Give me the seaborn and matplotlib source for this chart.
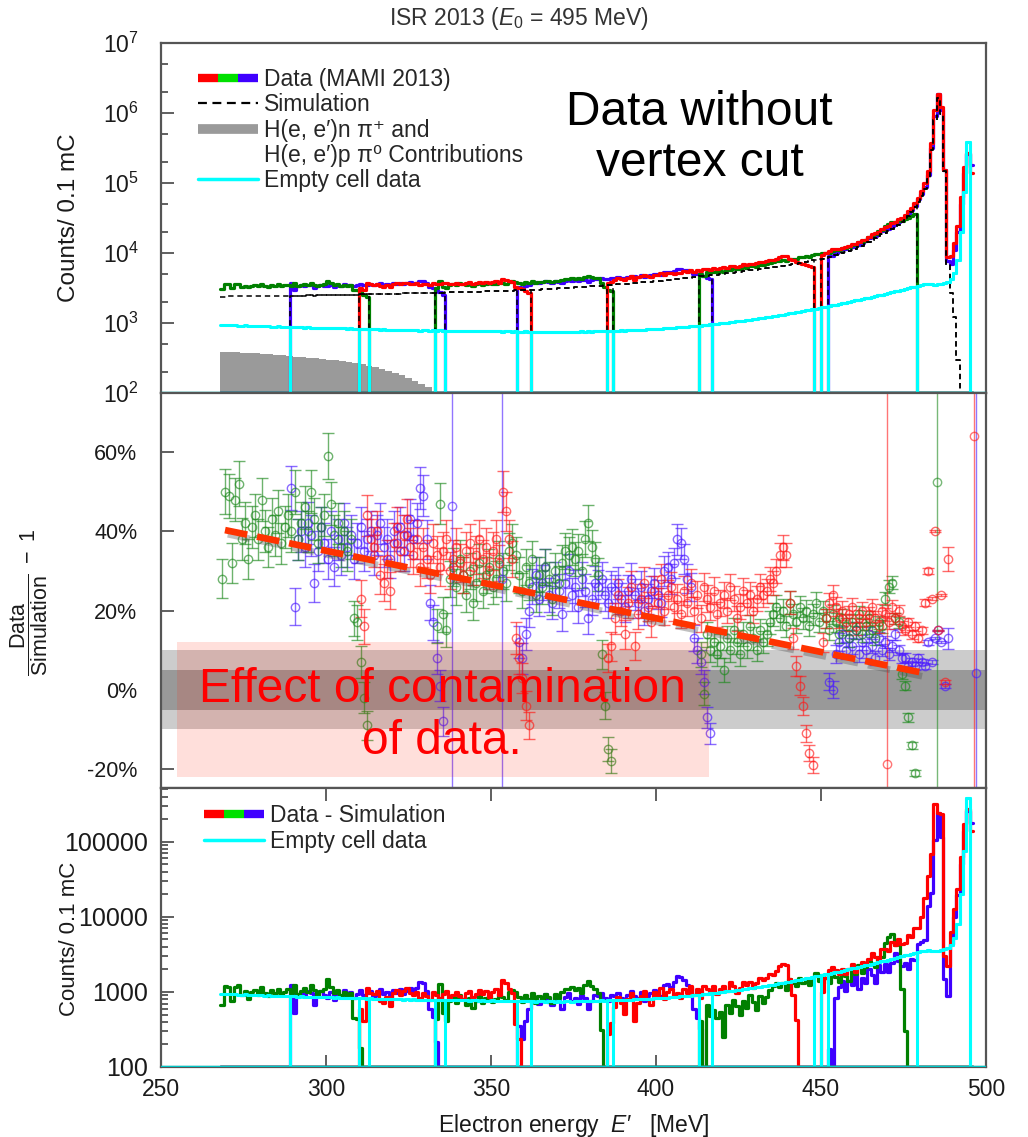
import numpy as np
import pandas as pd
import seaborn as sns
import matplotlib
matplotlib.use("Agg")
import matplotlib.pyplot as plt
from matplotlib.lines import Line2D
from matplotlib.legend_handler import HandlerTuple
from matplotlib.ticker import (LogLocator, FixedLocator, FixedFormatter,
                               NullFormatter, NullLocator, LogFormatterSciNotation)
import matplotlib.patheffects as pe

# ---------------------------------------------------------------------------
# Binning: 1 MeV bins, values indexed by the lower bin edge
# ---------------------------------------------------------------------------
E_FIRST = 268

# Simulated spectrum (counts / 0.1 mC), bins 268 ... 495 MeV
SIM = [
    2380, 2390, 2400, 2395, 2405, 2410, 2400, 2415, 2420, 2410, 2425, 2430,
    2430, 2425, 2440, 2435, 2445, 2450, 2440, 2455, 2460, 2450,
    2460, 2465, 2470, 2460, 2475, 2480, 2470, 2485, 2490, 2495,
    2500, 2505, 2510, 2500, 2520, 2525, 2530, 2540, 2535, 2550,
    2560, 2565, 2570, 2580, 2575, 2590, 2595, 2600, 2610, 2615,
    2620, 2625, 2630, 2640, 2645, 2650, 2660, 2665, 2670, 2675,
    2680, 2690, 2695, 2705, 2710, 2720, 2730, 2740, 2745, 2755,
    2760, 2770, 2775, 2785, 2795, 2800, 2810, 2820, 2825, 2835,
    2840, 2850, 2860, 2870, 2880, 2890, 2900, 2915, 2925, 2930,
    2940, 2955, 2975, 2990, 3010, 3030, 3050, 3070, 3085, 3100,
    3120, 3140, 3160, 3180, 3200, 3225, 3245, 3265, 3290, 3310,
    3330, 3355, 3380, 3410, 3440, 3465, 3495, 3525, 3560, 3590,
    3620, 3655, 3690, 3725, 3760, 3795, 3830, 3870, 3905, 3940,
    3980, 4025, 4070, 4115, 4160, 4210, 4255, 4305, 4355, 4400,
    4450, 4505, 4560, 4620, 4675, 4735, 4795, 4855, 4920, 4985,
    5050, 5120, 5190, 5260, 5335, 5410, 5485, 5565, 5640, 5720,
    5800, 5890, 5980, 6070, 6160, 6250, 6350, 6450, 6560, 6680,
    6800, 6930, 7070, 7210, 7360, 7520, 7680, 7850, 8030, 8160,
    8300, 8540, 8790, 9050, 9320, 9600, 9950, 10300, 10700, 11100,
    11500, 12000, 12600, 13300, 14300, 15500, 16400, 17400, 18500, 19500,
    20500, 22000, 23500, 25500, 27500, 30000, 34000, 39000, 45000, 54000,
    66000, 82000, 115000, 300000, 800000, 1620000, 970000, 150000, 6700,
    2700, 1200, 300, 100, 60, 40, 30,
]

# Empty target cell measurement (counts / 0.1 mC), bins 268 ... 495 MeV
EMPTY_CELL = [
    940, 930, 935, 925, 930, 920, 915, 925, 910, 905, 915, 900,
    905, 895, 900, 890, 885, 895, 880, 875, 885, 870,
    875, 865, 870, 860, 865, 855, 860, 850, 855, 845,
    850, 845, 840, 850, 835, 840, 830, 835, 825, 830,
    820, 825, 815, 820, 810, 815, 805, 810, 800, 805,
    800, 795, 805, 790, 800, 785, 795, 790, 780, 790,
    785, 780, 790, 775, 785, 780, 770, 780, 775, 770,
    780, 770, 775, 765, 775, 770, 760, 770, 765, 760,
    770, 760, 765, 755, 765, 760, 750, 760, 755, 750,
    760, 750, 755, 745, 755, 750, 745, 755, 750, 745,
    750, 745, 755, 750, 745, 755, 750, 760, 755, 760,
    755, 765, 760, 770, 765, 775, 770, 780, 775, 785,
    780, 790, 785, 795, 800, 795, 805, 810, 815, 820,
    825, 830, 840, 835, 850, 855, 865, 870, 880, 890,
    895, 905, 915, 920, 935, 940, 955, 965, 975, 990,
    1000, 1015, 1025, 1040, 1055, 1070, 1085, 1100, 1120, 1135,
    1155, 1170, 1190, 1210, 1230, 1250, 1275, 1300, 1320, 1345,
    1370, 1395, 1420, 1450, 1480, 1510, 1540, 1570, 1605, 1640,
    1675, 1710, 1750, 1790, 1830, 1870, 1915, 1960, 2005, 2055,
    2100, 2150, 2200, 2260, 2310, 2370, 2430, 2490, 2550, 2620,
    2690, 2760, 2830, 2900, 2980, 3060, 3140, 3230, 3320, 3400,
    3480, 3560, 3640, 3560, 3500, 3550, 3650, 3750, 3900,
    4200, 5200, 8000, 20000, 75000, 380000, 60,
]

# Pion production background, 2 MeV bins starting at 268 MeV
PION_FIRST = 268
PION_BG = [390, 385, 380, 376, 372, 367, 362, 357, 350, 344, 335, 330, 325,
           318, 312, 305, 300, 293, 285, 278, 270, 258, 245, 235, 222, 208,
           193, 180, 166, 150, 135, 120, 105]

# Spectrometer settings: colour, first bin and Data/Simulation - 1 in percent
WINDOW_COLORS = ["blue", "blue", "blue", "green", "green", "green",
                 "red", "red", "red"]
WINDOW_FIRST = [289, 358, 452, 268, 333, 413, 310, 385, 450]

RATIO_B1 = [51, 21, 38, 40, 36, 42, 39, 27, 35, 41, 37, 33, 40, 31, 38, 34,
            42, 36, 39, 33, 37, 41, 35, 38, 40, 34, 39, 42, 36, 38, 33, 40,
            37, 41, 35, 39, 43, 38, 42, 51, 49, 38, 22, 17, 8, 1, -8]
RATIO_B2 = [12, 8, 14, 20, 26, 29, 23, 27, 31, 24, 22, 28, 25, 19, 27, 30,
            24, 26, 21, 28, 25, 18, 23, 27, 26, 28, 24, 22, 26, 25, 27, 23,
            21, 25, 28, 24, 22, 26, 20, 23, 25, 27, 24, 22, 30, 31, 28, 32,
            38, 37, 33, 28, 26, 13, 10, 7, 2, -7, -11]
RATIO_B3 = [2, 0, 9, 12, 14, 10, 13, 11, 15, 9, 12, 10, 14, 11, 8, 13, 10,
            12, 9, 11, 14, 10, 8, 8, 6, 7, 6, 8, 7, 6, 12, 7, 13, 15, 12, 1,
            13]
RATIO_G1 = [28, 50, 49, 32, 48, 52, 38, 42, 33, 41, 44, 38, 48, 40, 36, 43,
            39, 45, 37, 41, 44, 40, 50, 38, 42, 46, 40, 50, 43, 37, 41, 44,
            59, 47, 39, 42, 36, 40, 35, 38, 18, 17, 7, -2, -9]
RATIO_G2 = [16, 47, 19, 15, 28, 31, 26, 33, 29, 24, 30, 22, 27, 32, 25, 29,
            31, 26, 28, 33, 30, 27, 35, 37, 34, 29, 25, 31, 27, 33, 24, 29,
            26, 31, 28, 23, 30, 27, 32, 35, 34, 36, 33, 35, 30, 38, 42, 36,
            33, 29, 9, -4, -15, -18]
RATIO_G3 = [9, -1, 14, 10, 12, 9, 11, 5, 13, 10, 15, 12, 9, 14, 11, 16, 13,
            10, 15, 12, 14, 17, 19, 21, 18, 20, 16, 22, 19, 17, 21, 18, 20,
            16, 19, 22, 17, 20, 18, 15, 19, 17, 14, 18, 16, 13, 17, 15, 19,
            14, 16, 18, 15, 13, 17, 16, 23, 26, 27, 18, 17, 4, 1, -7, -14,
            -21]
RATIO_R1 = [23, 16, 44, 38, 36, 40, 29, 27, 33, 25, 37, 41, 35, 39, 43, 36,
            34, 38, 31, 36, 33, 29, 37, 34, 31, 35, 38, 30, 33, 36, 32, 29,
            35, 37, 31, 34, 38, 33, 36, 30, 35, 38, 32, 50, 45, 38, 33, 13,
            8, 3, -4, -9]
RATIO_R2 = [8, 11, 18, 24, 20, 14, 22, 26, 11, 19, 23, 27, 21, 17, 25, 22,
            28, 20, 24, 26, 21, 23, 19, 25, 22, 27, 20, 24, 18, 26, 23, 21,
            25, 19, 22, 24, 20, 26, 23, 18, 21, 25, 22, 24, 20, 23, 26, 24,
            25, 28, 27, 30, 34, 36, 34, 22, 13, 6, 1, -4, -11, -16, -19]
RATIO_R3 = [12, 18, 22, 24, 21, 18, 20, 17, 19, 21, 16, 18, 20, 17, 19, 21,
            18, 16, 20, 19, 17, 21, 18, 20, 16, 15, 17, 14, 16, 13, 15, 22,
            30, 23, 40, 15, 24, 2, 33]
WINDOW_RATIOS = [RATIO_B1, RATIO_B2, RATIO_B3, RATIO_G1, RATIO_G2, RATIO_G3,
                 RATIO_R1, RATIO_R2, RATIO_R3]

# Measured counts above the elastic peak (489 ... 495 MeV), cell-wall peak
TAIL_BLUE = [7000, 11000, 20000, 50000, 140000, 260000, 180000]
TAIL_RED = [9000, 14000, 24000, 63000, 170000, 270000, 140000]
WINDOW_TAILS = [None, None, TAIL_BLUE, None, None, None, None, None, TAIL_RED]

# Bins at the acceptance edges with almost no simulated events
EDGE_E = [338.2, 353.2, 470.1, 485.0, 496.4, 497.0]
EDGE_RATIO = [46.5, 28.0, -18.7, 52.5, 64.0, 4.3]
EDGE_COLORS = ["blue", "blue", "red", "green", "red", "blue"]

# Linear trend of the excess
TREND_E = [269.4, 482.5]
TREND_R = [40.3, 4.0]

# Highlighted region in the ratio panel
BOX_E = [254.8, 416.0]
BOX_R = [-22.1, 12.1]

EVENTS_PER_COUNT = 0.5

LINE_COLOR = {"red": "#ff0000", "green": "#008000", "blue": "#3f00ff"}
KEY_COLOR = {"red": "#ff0000", "green": "#00e000", "blue": "#3f00ff"}
POINT_COLOR = {"red": "#ff1a1a", "green": "#1f8a1f", "blue": "#4a1aff"}
CYAN = "#00ffff"

# ---------------------------------------------------------------------------
sns.set_theme(style="ticks")
plt.rcParams["font.family"] = ["Liberation Sans", "DejaVu Sans"]
plt.rcParams["mathtext.fontset"] = "custom"
plt.rcParams["mathtext.rm"] = "Liberation Sans"
plt.rcParams["mathtext.it"] = "Liberation Sans:italic"
plt.rcParams["mathtext.bf"] = "Liberation Sans:bold"
plt.rcParams["axes.unicode_minus"] = False

sim_all = np.array(SIM, float)
cell_all = np.array(EMPTY_CELL, float)
nbin = len(sim_all)
edges = np.arange(E_FIRST, E_FIRST + nbin + 1)
centers = edges[:-1] + 0.5

windows = []
for color, first, ratio, tail in zip(WINDOW_COLORS, WINDOW_FIRST,
                                     WINDOW_RATIOS, WINDOW_TAILS):
    i0 = first - E_FIRST
    r = np.array(ratio, float)
    i1 = i0 + len(r)
    data = np.full(nbin, np.nan)
    sim = np.full(nbin, np.nan)
    data[i0:i1] = sim_all[i0:i1] * (1 + r / 100)
    sim[i0:i1] = sim_all[i0:i1]
    if tail is not None:
        t = np.array(tail, float)
        data[i1:i1 + len(t)] = t
        sim[i1:i1 + len(t)] = sim_all[i1:i1 + len(t)]
        i2 = i1 + len(t)
    else:
        i2 = i1
    cell = np.full(nbin, np.nan)
    cell[i0:i2] = cell_all[i0:i2]
    # statistical uncertainty of the ratio from raw event numbers
    d = data[i0:i1] * EVENTS_PER_COUNT
    s = sim_all[i0:i1] * EVENTS_PER_COUNT
    err = (100 + r) * np.sqrt(1 / d + 1 / s)
    windows.append(dict(color=color, data=data, sim=sim, cell=cell,
                        x=centers[i0:i1], r=r, err=err))


def stairs(ax, values, floor, **kw):
    v = np.where(np.isfinite(values), values, floor)
    v = np.maximum(v, floor)
    frame = pd.DataFrame({"E": edges, "y": np.append(v, v[-1])})
    sns.lineplot(data=frame, x="E", y="y", ax=ax, drawstyle="steps-post",
                 estimator=None, sort=False, legend=False, **kw)


W, H = 1028, 1137
fig = plt.figure(figsize=(W / 100, H / 100), dpi=100)
left, right = 161 / W, 986 / W


def rect(top_px, bottom_px):
    return [left, 1 - bottom_px / H, right - left, (bottom_px - top_px) / H]


ax1 = fig.add_axes(rect(43, 393))
ax2 = fig.add_axes(rect(393, 788))
ax3 = fig.add_axes(rect(788, 1067))

SPINE = "#555555"
for ax in (ax1, ax2, ax3):
    ax.set_xlim(250, 500)
    for sp in ax.spines.values():
        sp.set_color(SPINE)
        sp.set_linewidth(1.6)
        sp.set_visible(True)
    ax.tick_params(which="both", direction="in", colors="#444444",
                   labelcolor="#1a1a1a", labelsize=15.5, width=1.2)
    ax.tick_params(which="major", length=9)
    ax.tick_params(which="minor", length=5)
    ax.set_xlabel("")
    ax.set_ylabel("")

order = ["blue", "green", "red"]

# ---------------- top panel: spectra ----------------
ax1.set_yscale("log")
ax1.set_ylim(100, 1e7)
pion = np.array(PION_BG, float)
pion_edges = PION_FIRST + 2 * np.arange(len(pion) + 1)
ax1.fill_between(pion_edges, np.append(pion, pion[-1]), 100, step="post",
                 color="#9a9a9a", lw=0, zorder=1)
for c in order:
    for w in windows:
        if w["color"] == c:
            stairs(ax1, w["data"], 100, color=LINE_COLOR[c], lw=2.3, zorder=3)
for w in windows:
    stairs(ax1, w["sim"], 100, color="black", lw=1.1,
           linestyle=(0, (3.5, 2.5)), zorder=4)
for w in windows:
    stairs(ax1, w["cell"], 100, color=CYAN, lw=2.2, zorder=5)
ax1.axhline(100, color="#00c8c8", lw=2.5, zorder=6)

ax1.yaxis.set_major_locator(LogLocator(base=10, numticks=10))
ax1.yaxis.set_major_formatter(LogFormatterSciNotation())
ax1.yaxis.set_minor_locator(LogLocator(base=10, subs=(2, 5), numticks=10))
ax1.yaxis.set_minor_formatter(NullFormatter())
ax1.xaxis.set_major_locator(NullLocator())
ax1.tick_params(axis="x", which="both", bottom=False, labelbottom=False)
ax1.tick_params(axis="y", which="major", labelsize=16.5, pad=16)
ax1.set_ylabel("Counts/ 0.1 mC", fontsize=17.5, color="#1a1a1a")
ax1.yaxis.set_label_coords((80 - 161) / 825, 0.5)

tri_data = tuple(Line2D([], [], color=KEY_COLOR[c], lw=6, solid_capstyle="butt")
                 for c in ["red", "green", "blue"])
h_sim = Line2D([], [], color="black", lw=1.6, linestyle=(0, (4, 2.5)))
h_pion = Line2D([], [], color="#9a9a9a", lw=7, solid_capstyle="butt")
h_blank = Line2D([], [], color="none", lw=0)
h_cell = Line2D([], [], color=CYAN, lw=2.5)
ax1.legend([tri_data, h_sim, h_pion, h_blank, h_cell],
           ["Data (MAMI 2013)", "Simulation",
            "H(e, e\u2032)n \u03c0\u207a and",
            "H(e, e\u2032)p \u03c0\u2070 Contributions", "Empty cell data"],
           handler_map={tuple: HandlerTuple(ndivide=None, pad=0.0)},
           loc="upper left", bbox_to_anchor=((198 - 161) / 825, 1 - (68 - 43) / 350),
           frameon=False, fontsize=16.5, handlelength=2.6, handletextpad=0.3,
           labelspacing=0.1, borderpad=0, borderaxespad=0)
ax1.text(0.653, 0.728, "Data without\nvertex cut", transform=ax1.transAxes,
         ha="center", va="center", fontsize=34.5, color="black", linespacing=1.18)

# ---------------- middle panel: ratio ----------------
ax2.set_ylim(-24.8, 74.9)
ax2.axhspan(-10, 10, color="#cccccc", lw=0, zorder=0.5)
ax2.axhspan(-5, 5, color="#999999", lw=0, zorder=0.6)
for c in order:
    for w in windows:
        if w["color"] == c:
            ax2.errorbar(w["x"], w["r"], yerr=w["err"], fmt="o",
                         mfc="none", mec=POINT_COLOR[c], ecolor=POINT_COLOR[c],
                         ms=6, mew=1.0, elinewidth=1.0, capsize=4,
                         capthick=1.0, alpha=0.65, zorder=2)
for e, r, c in zip(EDGE_E, EDGE_RATIO, EDGE_COLORS):
    ax2.errorbar([e], [r], yerr=[300], fmt="o", mfc="none",
                 mec=POINT_COLOR[c], ecolor=POINT_COLOR[c], ms=6, mew=1.0,
                 elinewidth=1.0, capsize=0, alpha=0.6, zorder=2)
ax2.plot(TREND_E, TREND_R, color="#ff3300", lw=4.8, linestyle=(0, (3.4, 1.5)),
         solid_capstyle="butt", zorder=4,
         path_effects=[pe.SimpleLineShadow(offset=(2, -3), shadow_color="0.3",
                                           alpha=0.35), pe.Normal()])
ax2.fill_between(BOX_E, BOX_R[0], BOX_R[1], color="#ff2000", alpha=0.14, lw=0,
                 zorder=3)
ax2.text(335.2, -6.6, "Effect of contamination\nof data.", ha="center",
         va="center", fontsize=34.5, color="red", linespacing=1.2, zorder=6)
ax2.yaxis.set_major_locator(FixedLocator([-20, 0, 20, 40, 60]))
ax2.yaxis.set_major_formatter(FixedFormatter(["-20%", "0%", "20%", "40%", "60%"]))
ax2.yaxis.set_minor_locator(NullLocator())
ax2.xaxis.set_major_locator(NullLocator())
ax2.tick_params(axis="x", which="both", bottom=False, labelbottom=False)
ax2.tick_params(axis="y", which="major", pad=17)
ax2.set_ylabel(r"$\dfrac{\mathrm{Data}}{\mathrm{Simulation}}\ -\ 1$",
               fontsize=15.5, color="#1a1a1a")
ax2.yaxis.set_label_coords((50 - 161) / 825, 0.47)

# ---------------- bottom panel: difference ----------------
ax3.set_yscale("log")
ax3.set_ylim(100, 5.2e5)
for c in order:
    for w in windows:
        if w["color"] == c:
            stairs(ax3, w["data"] - w["sim"], 100, color=LINE_COLOR[c],
                   lw=2.3, zorder=3)
for w in windows:
    stairs(ax3, w["cell"], 100, color=CYAN, lw=2.2, zorder=5)
ax3.axhline(100, color="#00c8c8", lw=2.5, zorder=6)
ax3.yaxis.set_major_locator(FixedLocator([100, 1000, 10000, 100000]))
ax3.yaxis.set_major_formatter(FixedFormatter(["100", "1000", "10000", "100000"]))
ax3.yaxis.set_minor_locator(LogLocator(base=10, subs=np.arange(2, 10), numticks=12))
ax3.yaxis.set_minor_formatter(NullFormatter())
ax3.xaxis.set_major_locator(FixedLocator([250, 300, 350, 400, 450, 500]))
ax3.xaxis.set_minor_locator(NullLocator())
ax3.tick_params(axis="x", which="major", top=True, bottom=True, pad=8,
                labelsize=16.5)
ax3.tick_params(axis="y", which="major", labelsize=18, pad=9)
ax3.set_ylabel("Counts/ 0.1 mC", fontsize=16, color="#1a1a1a")
ax3.yaxis.set_label_coords((80 - 161) / 825, 0.46)
ax3.set_xlabel("Electron energy  $E$\u2032   [MeV]", fontsize=16.5,
               color="#1a1a1a", labelpad=8)
ax3.legend([tri_data, h_cell], ["Data - Simulation", "Empty cell data"],
           handler_map={tuple: HandlerTuple(ndivide=None, pad=0.0)},
           loc="upper left", bbox_to_anchor=((204 - 161) / 825, 1 - (804 - 788) / 279),
           frameon=False, fontsize=16.5, handlelength=2.6, handletextpad=0.3,
           labelspacing=0.15, borderpad=0, borderaxespad=0)

fig.text(0.505, 1 - 19 / H, r"ISR 2013 ($E_0$ = 495 MeV)", ha="center",
         va="center", fontsize=16.5, color="#333333")

fig.savefig("out.png", dpi=100)
